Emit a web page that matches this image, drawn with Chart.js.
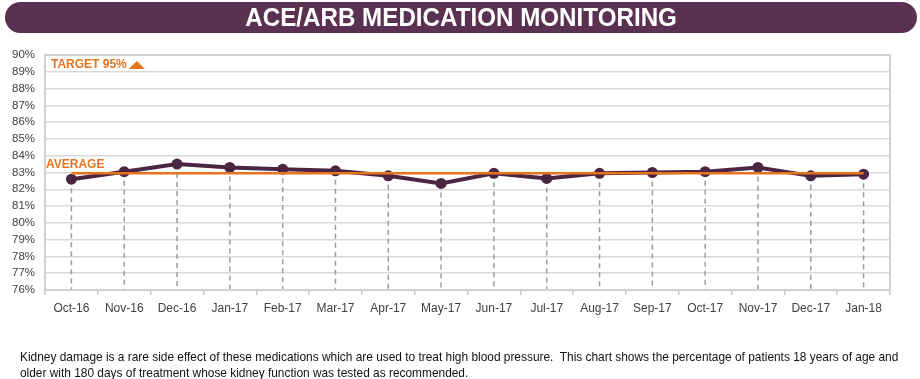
<!DOCTYPE html>
<html>
<head>
<meta charset="utf-8">
<script src="https://cdn.jsdelivr.net/npm/chart.js@4.4.1/dist/chart.umd.min.js"></script>
<style>
  body { margin: 0; background: #fff; width: 920px; height: 379px; overflow: hidden; position: relative; font-family: "Liberation Sans", Arial, sans-serif; }
  #title { position: absolute; left: 5px; top: 2px; width: 912px; height: 31px; border-radius: 16px; background: #5a3151;
    color: #fff; text-align: center; font-weight: bold; font-size: 26px; line-height: 31px; }
  #title span { display: inline-block; transform: scaleX(0.93); }
  #wrap { position: absolute; left: 0; top: 0; width: 920px; height: 379px; }
  #note { position: absolute; left: 20px; top: 349px; width: 1000px; font-size: 13px; line-height: 16px; color: #111;
    white-space: nowrap; transform: scaleX(0.915); transform-origin: left top; }
</style>
</head>
<body>
<div id="wrap"><canvas id="line-chart"></canvas></div>
<div id="title"><span>ACE/ARB MEDICATION MONITORING</span></div>
<div id="note">Kidney damage is a rare side effect of these medications which are used to treat high blood pressure.&nbsp; This chart shows the percentage of patients 18 years of age and<br>older with 180 days of treatment whose kidney function was tested as recommended.</div>
<script>
// chart data
const months = ['Oct-16', 'Nov-16', 'Dec-16', 'Jan-17', 'Feb-17', 'Mar-17', 'Apr-17', 'May-17',
    'Jun-17', 'Jul-17', 'Aug-17', 'Sep-17', 'Oct-17', 'Nov-17', 'Dec-17', 'Jan-18'];
const monitored = [82.6, 83.05, 83.5, 83.3, 83.2, 83.1, 82.8, 82.35,
    82.95, 82.65, 82.95, 83.0, 83.05, 83.3, 82.8, 82.9];
const average = [82.95, 82.95, 82.95, 82.95, 82.95, 82.95, 82.95, 82.95,
    82.95, 82.95, 82.95, 82.95, 82.95, 82.95, 82.95, 82.95];
const yMin = 76;
const yMax = 90;

const orange = '#e8731e';
const purple = '#4b2643';

// dashed drop lines, plot border and the labels
const extras = {
    id: 'extras',
    beforeDatasetsDraw(chart) {
        const ctx = chart.ctx;
        const area = chart.chartArea;
        const pts = chart.getDatasetMeta(0).data;
        ctx.save();
        ctx.strokeStyle = '#9a9a9a';
        ctx.lineWidth = 1.5;
        ctx.setLineDash([5, 4]);
        pts.forEach(p => {
            ctx.beginPath();
            ctx.moveTo(p.x, p.y);
            ctx.lineTo(p.x, area.bottom);
            ctx.stroke();
        });
        ctx.setLineDash([]);
        ctx.strokeStyle = '#d0d0d0';
        ctx.lineWidth = 2;
        ctx.strokeRect(area.left, area.top, area.right - area.left, area.bottom - area.top);
        ctx.restore();
    },
    afterDatasetsDraw(chart) {
        const ctx = chart.ctx;
        const area = chart.chartArea;
        const y = chart.scales.y;
        ctx.save();
        ctx.fillStyle = orange;
        ctx.font = 'bold 12px "Liberation Sans", Arial, sans-serif';
        ctx.textBaseline = 'middle';
        ctx.fillText('TARGET 95%', area.left + 6, area.top + 10);
        const tw = ctx.measureText('TARGET 95%').width;
        const tx = area.left + 6 + tw + 2;
        ctx.beginPath();
        ctx.moveTo(tx, area.top + 14);
        ctx.lineTo(tx + 16, area.top + 14);
        ctx.lineTo(tx + 8, area.top + 6);
        ctx.closePath();
        ctx.fill();
        ctx.fillText('AVERAGE', area.left + 1, y.getPixelForValue(average[0]) - 9);
        ctx.restore();
    }
};

const lineChart = new Chart(document.getElementById('line-chart').getContext('2d'), {
    type: 'line',
    data: {
        labels: months,
        datasets: [{
            label: 'Monitored',
            data: monitored,
            borderColor: purple,
            backgroundColor: purple,
            borderWidth: 4,
            pointRadius: 5.5,
            pointBorderWidth: 0,
            order: 2
        },
        {
            label: 'Average',
            data: average,
            borderColor: orange,
            borderWidth: 2.5,
            pointRadius: 0,
            order: 1
        }]
    },
    options: {
        responsive: true,
        maintainAspectRatio: false,
        animation: false,
        layout: { padding: { left: 0, right: 30, top: 55, bottom: 57 } },
        plugins: { legend: { display: false }, tooltip: { enabled: false } },
        scales: {
            x: {
                offset: true,
                afterFit: s => { s.height = 32; },
                grid: { offset: true, drawOnChartArea: false, drawTicks: true, tickLength: 5, color: '#c8c8c8', lineWidth: 1.5 },
                border: { color: '#d0d0d0', width: 2 },
                ticks: { color: '#404040', font: { size: 12, family: '"Liberation Sans", Arial, sans-serif' }, padding: 6, maxRotation: 0, autoSkip: false }
            },
            y: {
                min: yMin,
                max: yMax,
                afterFit: s => { s.width = 45; },
                grid: { color: '#d9d9d9', lineWidth: 1.5, drawTicks: false },
                border: { color: '#d0d0d0', width: 2 },
                ticks: { stepSize: 1, autoSkip: false, padding: 10, color: '#404040', font: { size: 11.5, family: '"Liberation Sans", Arial, sans-serif' }, callback: v => v + '%' }
            }
        }
    },
    plugins: [extras]
});
</script>
</body>
</html>
